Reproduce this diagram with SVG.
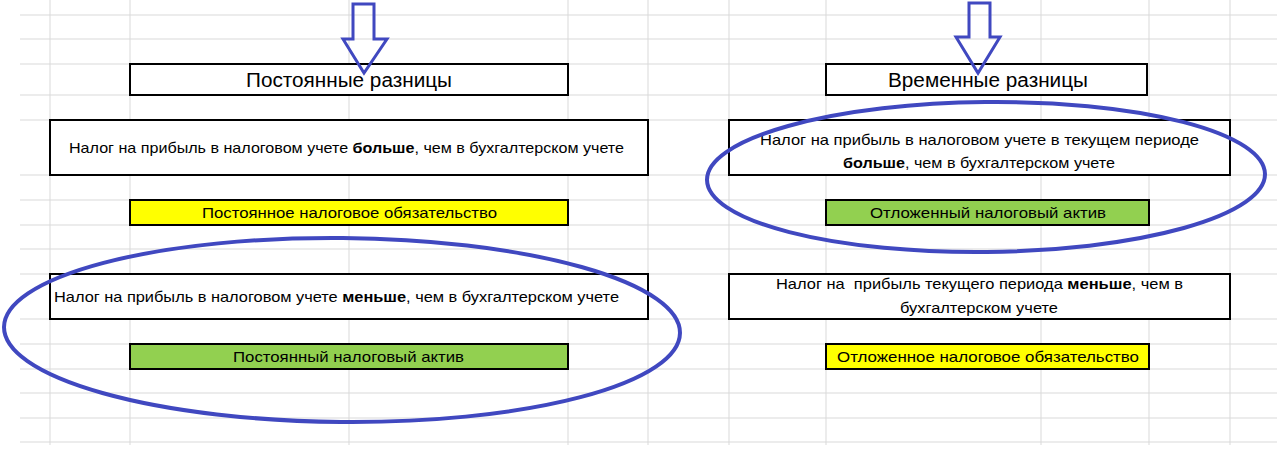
<svg xmlns="http://www.w3.org/2000/svg" width="1277" height="470" viewBox="0 0 1277 470">
<style>
.grid line{stroke:#d9d9d9;stroke-width:1}
.box{fill:#ffffff;stroke:#000;stroke-width:2}
.yel{fill:#ffff00;stroke:#000;stroke-width:2}
.grn{fill:#92d050;stroke:#000;stroke-width:2}
text{font-family:"Liberation Sans",Arial,sans-serif;fill:#000;font-size:15px}
.t20{font-size:20px}
.b{font-weight:bold}
.blue{fill:none;stroke:#4048c0;stroke-width:4}
.arr{fill:none;stroke:#4048c0;stroke-width:3;stroke-linejoin:miter}
</style>
<rect width="1277" height="470" fill="#ffffff"/>
<g class="grid">
<line x1="20" y1="15" x2="1277" y2="15"/>
<line x1="20" y1="39" x2="1277" y2="39"/>
<line x1="20" y1="64" x2="1277" y2="64"/>
<line x1="20" y1="95" x2="1277" y2="95"/>
<line x1="20" y1="120" x2="1277" y2="120"/>
<line x1="20" y1="175" x2="1277" y2="175"/>
<line x1="20" y1="200" x2="1277" y2="200"/>
<line x1="20" y1="225" x2="1277" y2="225"/>
<line x1="20" y1="249" x2="1277" y2="249"/>
<line x1="20" y1="274" x2="1277" y2="274"/>
<line x1="20" y1="319" x2="1277" y2="319"/>
<line x1="20" y1="344" x2="1277" y2="344"/>
<line x1="20" y1="369" x2="1277" y2="369"/>
<line x1="20" y1="393" x2="1277" y2="393"/>
<line x1="20" y1="418" x2="1277" y2="418"/>
<line x1="20" y1="442" x2="1277" y2="442"/>
<line x1="50" y1="0" x2="50" y2="445"/>
<line x1="130" y1="0" x2="130" y2="445"/>
<line x1="349" y1="0" x2="349" y2="445"/>
<line x1="568" y1="0" x2="568" y2="445"/>
<line x1="648" y1="0" x2="648" y2="445"/>
<line x1="729" y1="0" x2="729" y2="445"/>
<line x1="826" y1="0" x2="826" y2="445"/>
<line x1="1041" y1="0" x2="1041" y2="445"/>
<line x1="1149" y1="0" x2="1149" y2="445"/>
<line x1="1230" y1="0" x2="1230" y2="445"/>
</g>
<g id="perm-title">
<rect class="box" x="130" y="64" width="438" height="31"/>
<text class="t20" x="246" y="87" textLength="206" lengthAdjust="spacingAndGlyphs">Постоянные разницы</text>
</g>
<g id="perm-more">
<rect class="box" x="50" y="120" width="598" height="55"/>
<text x="69" y="153" textLength="555" lengthAdjust="spacingAndGlyphs">Налог на прибыль в налоговом учете <tspan class="b">больше</tspan>, чем в бухгалтерском учете</text>
</g>
<g id="perm-liab">
<rect class="yel" x="130" y="200" width="438" height="25"/>
<text x="202" y="218" textLength="295" lengthAdjust="spacingAndGlyphs">Постоянное налоговое обязательство</text>
</g>
<g id="perm-less">
<rect class="box" x="50" y="274" width="598" height="45"/>
<text x="54" y="302" textLength="565" lengthAdjust="spacingAndGlyphs">Налог на прибыль в налоговом учете <tspan class="b">меньше</tspan>, чем в бухгалтерском учете</text>
</g>
<g id="perm-asset">
<rect class="grn" x="130" y="344" width="438" height="25"/>
<text x="233" y="362" textLength="231" lengthAdjust="spacingAndGlyphs">Постоянный налоговый актив</text>
</g>
<g id="temp-title">
<rect class="box" x="826" y="64" width="321" height="31"/>
<text class="t20" x="888" y="87" textLength="200" lengthAdjust="spacingAndGlyphs">Временные разницы</text>
</g>
<g id="temp-more">
<rect class="box" x="729" y="120" width="501" height="55"/>
<text x="760" y="145" textLength="439" lengthAdjust="spacingAndGlyphs">Налог на прибыль в налоговом учете в текущем периоде</text>
<text x="843" y="168" textLength="272" lengthAdjust="spacingAndGlyphs"><tspan class="b">больше</tspan>, чем в бухгалтерском учете</text>
</g>
<g id="temp-asset">
<rect class="grn" x="826" y="200" width="323" height="25"/>
<text x="870" y="218" textLength="236" lengthAdjust="spacingAndGlyphs">Отложенный налоговый актив</text>
</g>
<g id="temp-less">
<rect class="box" x="729" y="274" width="501" height="45"/>
<text x="776" y="289" textLength="407" lengthAdjust="spacingAndGlyphs" xml:space="preserve">Налог на  прибыль текущего периода <tspan class="b">меньше</tspan>, чем в</text>
<text x="900" y="313" textLength="158" lengthAdjust="spacingAndGlyphs">бухгалтерском учете</text>
</g>
<g id="temp-liab">
<rect class="yel" x="826" y="344" width="323" height="25"/>
<text x="837" y="362" textLength="302" lengthAdjust="spacingAndGlyphs">Отложенное налоговое обязательство</text>
</g>
<g id="connectors">
<path class="arr" d="M353,4 H374 V39 H387 L364,73 L343,39 H353 Z"/>
<path class="arr" d="M969,3 H990 V37 H1000 L978,73 L956,37 H969 Z"/>
<ellipse class="blue" cx="342" cy="330" rx="338" ry="92" transform="rotate(0.5 342 330)"/>
<ellipse class="blue" cx="986" cy="177" rx="279" ry="75" transform="rotate(-0.6 986 177)"/>
</g>
</svg>
